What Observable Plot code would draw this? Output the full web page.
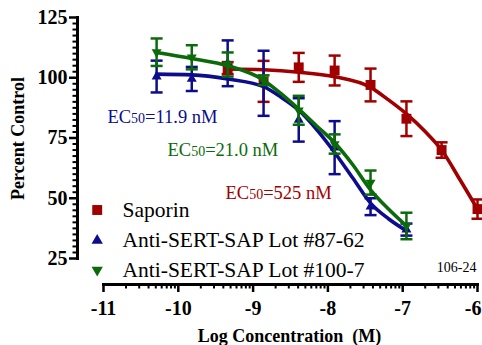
<!DOCTYPE html>
<html>
<head>
<meta charset="utf-8">
<script src="https://cdn.jsdelivr.net/npm/d3@7"></script>
<script src="https://cdn.jsdelivr.net/npm/@observablehq/plot@0.6"></script>
<style>
  body { margin: 0; background: #fff; }
  svg { display: block; }
</style>
</head>
<body>
<div id="chart"></div>
<script>
// ---- Data ----
const logConcSaporin = [-9.34, -8.86, -8.39, -7.91, -7.43, -6.95, -6.48, -6.0];
const saporinMean    = [104, 98.5, 104.3, 103, 97, 83, 70, 45.5];
const saporinErr     = [2.5, 8.5, 6, 6.2, 6.8, 7.2, 3.2, 4];

const logConcSERT = [-10.29, -9.82, -9.34, -8.86, -8.39, -7.91, -7.43, -6.95];
const lot8762Mean = [100.5, 99.5, 106, 97.7, 82.5, 71, 46.5, 37];
const lot8762Err  = [6.6, 5, 9.5, 13.5, 9, 11, 3.5, 2.5];
const lot1007Mean = [110.6, 108.5, 105.5, 99, 86.5, 72.5, 56.5, 38.5];
const lot1007Err  = [5.7, 5, 5, 2, 6, 4, 5, 5.5];

// fitted curves
const saporinCurveX = [-9.34, -8.86, -8.39, -7.91, -7.43, -7.19, -6.95, -6.71, -6.48, -6.24, -6.0];
const saporinCurveY = [103.6, 103.3, 102.3, 100.4, 96, 90.8, 85, 78, 70, 58, 45.5];
const sertCurveX    = [-10.29, -9.82, -9.34, -8.86, -8.63, -8.39, -8.15, -7.91, -7.67, -7.43, -7.19, -6.95];
const lot8762CurveY = [101.5, 101.2, 99.5, 96.3, 92, 86.5, 78.5, 69, 58.5, 48, 41.5, 36.5];
const lot1007CurveY = [110.5, 108, 105, 99, 93.5, 87, 80, 73, 64, 53.5, 45.5, 38.5];

const seriesNames = ["Saporin", "Anti-SERT-SAP Lot #87-62", "Anti-SERT-SAP Lot #100-7"];
const ecLabels = ["EC50=11.9 nM", "EC50=21.0 nM", "EC50=525 nM"];
const ecLabelX = [-10.947, -10.144, -9.369];
const ecLabelY = [81.25, 67.5, 49.6];

const xMajorTicks = [-11, -10, -9, -8, -7, -6];
const yMajorTicks = [25, 50, 75, 100, 125];
const xMinorTicks = d3.range(-11, -6).flatMap(e => d3.range(2, 10).map(k => e + Math.log10(k)));
const yMinorTicks = d3.range(25, 125.01, 2.5).filter(v => v % 25 !== 0);

// ---- Styles ----
const serif = "'Liberation Serif','Times New Roman',Times,serif";
const RED = "#a00000", BLUE = "#0c0c8c", GREEN = "#0b6b0b";
const ecColors = [BLUE, GREEN, RED];

function rows(xs, ys, errs) {
  return xs.map((x, i) => ({x, y: ys[i], lo: ys[i] - errs[i], hi: ys[i] + errs[i]}));
}
function curve(xs, ys) { return xs.map((x, i) => ({x, y: ys[i]})); }

const capSymbol = {
  draw(ctx, size) {
    const r = Math.sqrt(size / Math.PI);
    ctx.moveTo(-r, 0); ctx.lineTo(r, 0);
  }
};

function seriesMarks(data, curveData, color, symbol, rotate, r) {
  return [
    Plot.line(curveData, {x: "x", y: "y", stroke: color, strokeWidth: 3.6, curve: "monotone-x"}),
    Plot.ruleX(data, {x: "x", y1: "lo", y2: "hi", stroke: color, strokeWidth: 2.5}),
    Plot.dot(data, {x: "x", y: "hi", symbol: capSymbol, r: 6, fill: "none", stroke: color, strokeWidth: 2.5}),
    Plot.dot(data, {x: "x", y: "lo", symbol: capSymbol, r: 6, fill: "none", stroke: color, strokeWidth: 2.5}),
    Plot.dot(data, {x: "x", y: "y", symbol, rotate, r, fill: color, stroke: "none"})
  ];
}

const saporin = rows(logConcSaporin, saporinMean, saporinErr);
const lot8762 = rows(logConcSERT, lot8762Mean, lot8762Err);
const lot1007 = rows(logConcSERT, lot1007Mean, lot1007Err);

const legendColors = [RED, BLUE, GREEN];
const legendSymbols = ["square", "triangle", "triangle"];
const legendRotate = [0, 0, 180];
const legendR = [5.6, 4.2, 4.2];
const legendMarks = seriesNames.flatMap((name, i) => [
  Plot.dot([name], {frameAnchor: "top-left", dx: -6.3, dy: 192.5 + 30 * i + (i === 1 ? 0.5 : 0),
    symbol: legendSymbols[i], rotate: legendRotate[i], r: legendR[i], fill: legendColors[i]}),
  Plot.text([name], {frameAnchor: "top-left", dx: 19, dy: 199.5 + 30 * i, text: d => d,
    textAnchor: "start", lineAnchor: "bottom", fontSize: 21.5, fontFamily: serif, fill: "black"})
]);

const tickText = {fontSize: 20, fontWeight: "bold", fontFamily: serif, tickFormat: d => String(d), label: null};

const chart = Plot.plot({
  width: 482,
  height: 345,
  marginLeft: 103,
  marginRight: 5,
  marginTop: 17,
  marginBottom: 87,
  style: {background: "white", fontFamily: serif, color: "black"},
  x: {domain: [-11, -6]},
  y: {domain: [25, 125]},
  marks: [
    // y axis
    Plot.frame({anchor: "left", dx: -26, strokeWidth: 3}),
    Plot.axisY({ticks: yMajorTicks, tickSize: 8, tickPadding: 2, dx: -26, strokeWidth: 2.5, ...tickText}),
    Plot.axisY({ticks: yMinorTicks, tickSize: 4.5, dx: -26, fill: "none", strokeWidth: 2, label: null}),
    // x axis
    Plot.frame({anchor: "bottom", dy: 26, strokeWidth: 3}),
    Plot.axisX({ticks: xMajorTicks, tickSize: 8, dy: 26, fill: "none", strokeWidth: 2.5, label: null}),
    Plot.axisX({ticks: xMajorTicks.filter(t => t !== -6), tickSize: 8, tickPadding: 8, dy: 26, stroke: "none", ...tickText}),
    Plot.axisX({ticks: [-6], tickSize: 8, tickPadding: 8, dy: 26, dx: 4, textAnchor: "end", stroke: "none", ...tickText}),
    Plot.axisX({ticks: xMinorTicks, tickSize: 4.5, dy: 26, fill: "none", strokeWidth: 2, label: null}),
    Plot.text(["Percent Control"], {frameAnchor: "left", dx: -80, dy: 0.5, rotate: -90, text: d => d,
      textAnchor: "middle", lineAnchor: "bottom", fontSize: 18, fontWeight: "bold", fontFamily: serif, fill: "black"}),
    Plot.text(["Log Concentration\u00a0 (M)"], {frameAnchor: "bottom", dx: -1, dy: 83, text: d => d,
      textAnchor: "middle", lineAnchor: "bottom", fontSize: 18, fontWeight: "bold", fontFamily: serif, fill: "black"}),
    Plot.text(["106-24"], {frameAnchor: "bottom-right", dx: -1, dy: 13, text: d => d,
      textAnchor: "end", lineAnchor: "bottom", fontSize: 14, fontFamily: serif, fill: "black"}),
    // series
    ...seriesMarks(saporin, curve(saporinCurveX, saporinCurveY), RED, "square", 0, 5.6),
    ...seriesMarks(lot8762, curve(sertCurveX, lot8762CurveY), BLUE, "triangle", 0, 3.7),
    ...seriesMarks(lot1007, curve(sertCurveX, lot1007CurveY), GREEN, "triangle", 180, 3.7),
    // EC50 annotations
    Plot.text(ecLabels.map((t, i) => ({t, x: ecLabelX[i], y: ecLabelY[i], c: ecColors[i]})),
      {x: "x", y: "y", text: "t", fill: d => d.c, textAnchor: "start", lineAnchor: "bottom",
       fontSize: 18.5, fontFamily: serif}),
    // legend
    ...legendMarks
  ]
});

// render the "50" of EC50 smaller
chart.querySelectorAll("text").forEach(el => {
  const s = el.textContent;
  if (s.startsWith("EC50") && el.children.length === 0) {
    el.textContent = "";
    const ns = "http://www.w3.org/2000/svg";
    const a = document.createElementNS(ns, "tspan"); a.textContent = "EC";
    const b = document.createElementNS(ns, "tspan"); b.textContent = "50"; b.setAttribute("font-size", "14");
    const c = document.createElementNS(ns, "tspan"); c.textContent = s.slice(4);
    el.append(a, b, c);
  }
});

document.getElementById("chart").appendChild(chart);
</script>
</body>
</html>
